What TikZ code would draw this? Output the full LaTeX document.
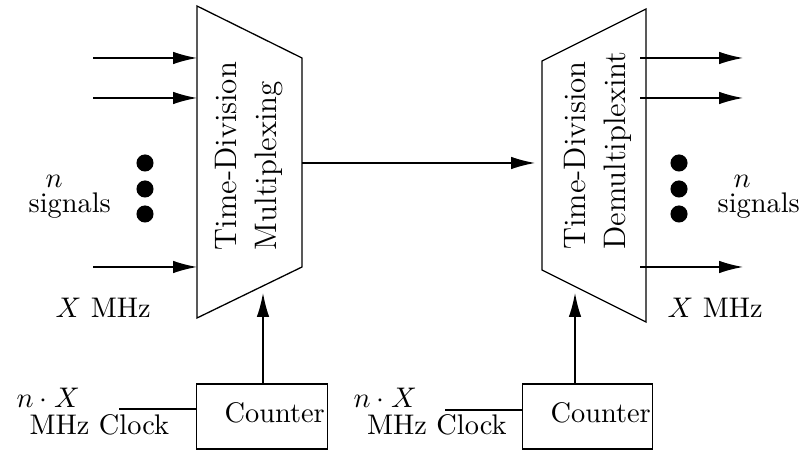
\documentclass[tikz,border=0pt]{standalone}
\usetikzlibrary{arrows.meta}
\begin{document}
\begin{tikzpicture}[x=0.3861pt,y=-0.3861pt,
  line width=0.5pt,
  arr/.style={-{Latex[length=9.2pt,width=4.8pt]}},
  lbl/.style={inner sep=0pt, anchor=base west, font=\fontsize{10.95}{13.6}\selectfont},
  rot/.style={rotate=90, align=left, inner sep=0pt, font=\fontsize{12}{15.2}\selectfont},
  dotnode/.style={circle, fill=black, inner sep=0pt, minimum size=6.6pt},
  boxnode/.style={draw, rectangle, inner sep=0pt}]
\useasboundingbox (0,0) rectangle (802,450);

% multiplexer
\draw (197,6) coordinate (m1) -- (302,58) coordinate (m2) -- (302,267) coordinate (m3) -- (197,318) coordinate (m4) -- cycle;
\node[rot] (mtext) at (249,156) {Time-Division\\Multiplexing};

% demultiplexer
\draw (542,61) coordinate (d1) -- (646,9) coordinate (d2) -- (646,322) coordinate (d3) -- (542,270) coordinate (d4) -- cycle;
\node[rot] (dtext) at (598,150.5) {Time-Division\\Demultiplexint};

% inputs
\coordinate (ia) at (93,58);  \coordinate (ea) at (197,58);
\coordinate (ib) at (93,98);  \coordinate (eb) at (197,98);
\coordinate (ic) at (93,267); \coordinate (ec) at (197,267);
\draw[arr] (ia) -- (ea);
\draw[arr] (ib) -- (eb);
\draw[arr] (ic) -- (ec);

% outputs
\coordinate (oa) at (640,58);  \coordinate (fa) at (743,58);
\coordinate (ob) at (640,98);  \coordinate (fb) at (743,98);
\coordinate (oc) at (640,267); \coordinate (fc) at (743,267);
\draw[arr] (oa) -- (fa);
\draw[arr] (ob) -- (fb);
\draw[arr] (oc) -- (fc);

% link
\coordinate (ls) at (302,163); \coordinate (le) at (535,163);
\draw[arr] (ls) -- (le);

% dots
\node[dotnode] (l1) at (145,163) {};
\node[dotnode] (l2) at (145,189) {};
\node[dotnode] (l3) at (145,214) {};
\node[dotnode] (r1) at (679,163) {};
\node[dotnode] (r2) at (679,189) {};
\node[dotnode] (r3) at (679,214) {};

% labels
\node[lbl] (ln) at (45,188) {$n$};
\node[lbl] (ls2) at (28,213) {signals};
\node[lbl] (rn) at (733,188) {$n$};
\node[lbl] (rs2) at (717,213) {signals};
\node[lbl] (lx) at (55,318) {$X$ MHz};
\node[lbl] (rx) at (667,318) {$X$ MHz};

% counters
\node[boxnode, minimum width=50.4pt, minimum height=25.1pt] (lc) at (262,416.5) {};
\node[boxnode, minimum width=50.4pt, minimum height=25.1pt] (rc) at (587.5,416.5) {};
\node[lbl] (lct) at (224,423) {Counter};
\node[lbl] (rct) at (550,423) {Counter};

\coordinate (lca) at (263,384); \coordinate (lcb) at (263,293);
\coordinate (rca) at (575,384); \coordinate (rcb) at (575,293);
\draw[arr] (lca) -- (lcb);
\draw[arr] (rca) -- (rcb);

% clocks
\node[lbl] (lk1) at (16,408) {$n\cdot X$};
\node[lbl] (lk2) at (29,435) {MHz Clock};
\node[lbl] (rk1) at (353,408) {$n\cdot X$};
\node[lbl] (rk2) at (366.5,435) {MHz Clock};
\coordinate (lks) at (119,409);
\coordinate (rks) at (445,410);
\draw (lks) -- (lc.west |- lks);
\draw (rks) -- (rc.west |- rks);
\end{tikzpicture}
\end{document}
